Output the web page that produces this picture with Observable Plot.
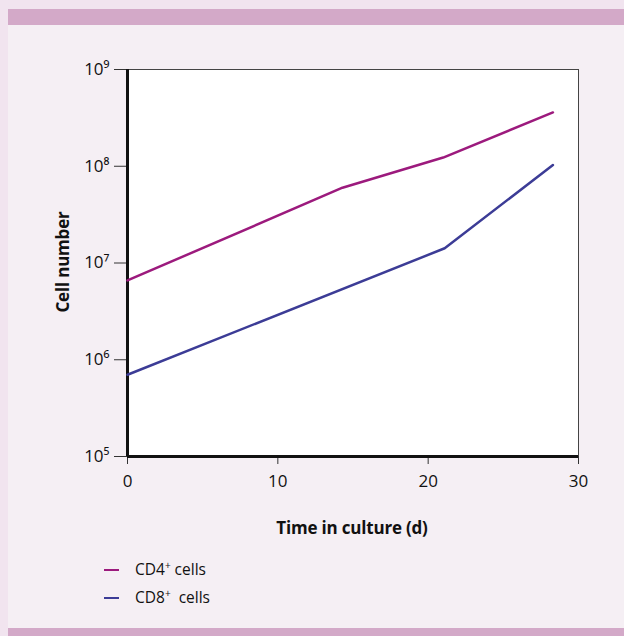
<!DOCTYPE html>
<html><head><meta charset="utf-8">
<script src="https://cdn.jsdelivr.net/npm/d3@7"></script>
<script src="https://cdn.jsdelivr.net/npm/@observablehq/plot@0.6"></script>
<style>
html,body{margin:0;padding:0;}
body{width:624px;height:636px;background:#f1e4ef;position:relative;overflow:hidden;font-family:"Open Sans","Noto Sans",sans-serif;}
#panel{position:absolute;left:8px;top:9px;width:616px;height:627px;background:#f5eff4;}
#topband{position:absolute;left:8px;top:9px;width:616px;height:16px;background:#d3a9c8;}
#botband{position:absolute;left:8px;top:628px;width:616px;height:8px;background:#d3a9c8;}
#chart{position:absolute;left:0;top:0;}
.lbl{position:absolute;font-weight:700;color:#111;font-size:17px;white-space:nowrap;letter-spacing:-0.2px;}
#ylab{left:62px;top:262px;transform:translate(-50%,-50%) rotate(-90deg);}
#xlab{left:352px;top:527px;transform:translate(-50%,-50%);}
.leg{position:absolute;left:104px;font-size:15.5px;color:#111;white-space:nowrap;}
.leg .sw{display:inline-block;width:15px;height:2px;vertical-align:middle;margin-right:16px;position:relative;top:-1px;}
.leg sup{font-size:10px;}
</style></head>
<body>
<div id="panel"></div>
<div id="topband"></div>
<div id="botband"></div>
<div id="chart"></div>
<div class="lbl" id="ylab">Cell number</div>
<div class="lbl" id="xlab">Time in culture (d)</div>
<div class="leg" style="top:558px"><span class="sw" style="background:#9c1a7d"></span>CD4<sup>+</sup> cells</div>
<div class="leg" style="top:586px"><span class="sw" style="background:#3c3c96"></span>CD8<sup>+</sup>&nbsp; cells</div>
<script>
const cd4Days = [0, 14.3, 21, 28.3];
const cd4Cells = [6.6e6, 6.0e7, 1.23e8, 3.6e8];
const cd8Days = [0, 21.1, 28.3];
const cd8Cells = [7.0e5, 1.42e7, 1.03e8];
const xTicks = [0, 10, 20, 30];
const yTicks = [1e5, 1e6, 1e7, 1e8, 1e9];
const sup = {"5":"⁵","6":"⁶","7":"⁷","8":"⁸","9":"⁹"};

const cd4 = cd4Days.map((d,i)=>({day:d, cells:cd4Cells[i]}));
const cd8 = cd8Days.map((d,i)=>({day:d, cells:cd8Cells[i]}));

const chart = Plot.plot({
  width: 624, height: 500,
  marginLeft: 127, marginRight: 46, marginTop: 69, marginBottom: 44,
  style: {background: "transparent", fontFamily: "'Open Sans','Noto Sans',sans-serif", fontSize: "17px", color: "#111"},
  x: {domain: [0, 30]},
  y: {type: "log", domain: [1e5, 1e9]},
  marks: [
    Plot.frame({fill: "white", stroke: "#444", strokeWidth: 1}),
    Plot.axisX({ticks: xTicks, tickSize: 8, tickPadding: 10, fontSize: 17, tickFormat: d => String(d), label: null, stroke: "#333"}),
    Plot.axisY({ticks: yTicks, tickSize: 13, tickPadding: 5, fontSize: 17, tickFormat: d => "10" + sup[String(Math.round(Math.log10(d)))], label: null, stroke: "#333"}),
    Plot.ruleX([0], {stroke: "#111", strokeWidth: 3}),
    Plot.ruleY([1e5], {stroke: "#111", strokeWidth: 3}),
    Plot.line(cd4, {x: "day", y: "cells", stroke: "#9c1a7d", strokeWidth: 2.5}),
    Plot.line(cd8, {x: "day", y: "cells", stroke: "#3c3c96", strokeWidth: 2.5})
  ]
});
document.getElementById("chart").appendChild(chart);
</script>
</body></html>
